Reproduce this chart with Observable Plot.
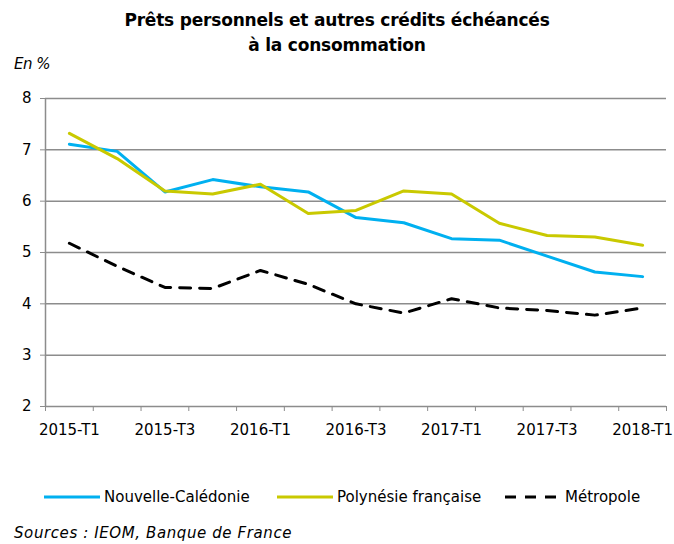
<!DOCTYPE html>
<html><head><meta charset="utf-8">
<script src="https://cdn.jsdelivr.net/npm/d3@7"></script>
<script src="https://cdn.jsdelivr.net/npm/@observablehq/plot@0.6"></script>
<style>
body{margin:0;background:#fff;font-family:"DejaVu Sans",sans-serif;}
#wrap{position:relative;width:674px;height:544px;overflow:hidden;}
#title{position:absolute;top:8px;left:0;width:674px;text-align:center;font-weight:bold;font-size:17px;line-height:25px;color:#000;letter-spacing:-0.2px;}
#unit{position:absolute;top:55px;left:14px;font-style:italic;font-size:15px;letter-spacing:-0.5px;}
#chart{position:absolute;top:80px;left:0;}
#legend{position:absolute;top:487px;left:0;width:674px;font-size:15px;}
.li{position:absolute;top:0;display:flex;align-items:center;height:20px;}
.li svg{margin-right:4px;}
#src{position:absolute;top:524px;left:14px;font-style:italic;font-size:15px;letter-spacing:0.6px;}
</style></head>
<body><div id="wrap">
<div id="title">Prêts personnels et autres crédits échéancés<br>à la consommation</div>
<div id="unit">En %</div>
<div id="chart"></div>
<div id="legend"></div>
<div id="src">Sources : IEOM, Banque de France</div>
</div>
<script>
const quarters = ["2015-T1","2015-T2","2015-T3","2015-T4","2016-T1","2016-T2","2016-T3","2016-T4","2017-T1","2017-T2","2017-T3","2017-T4","2018-T1"];
const nouvelleCaledonie = [7.11,6.97,6.18,6.42,6.28,6.18,5.68,5.58,5.27,5.24,4.93,4.62,4.53];
const polynesieFrancaise = [7.32,6.83,6.20,6.14,6.33,5.76,5.82,6.20,6.14,5.57,5.33,5.30,5.14];
const metropole = [5.18,4.73,4.32,4.30,4.65,4.38,4.00,3.82,4.10,3.92,3.87,3.78,3.92];
const yTicks = [2,3,4,5,6,7,8];
const seriesNames = ["Nouvelle-Calédonie","Polynésie française","Métropole"];
const seriesColors = ["#00B0F0","#C9C900","#000000"];

const rows = quarters.flatMap((q,i)=>[
  {i, q, s:seriesNames[0], v:nouvelleCaledonie[i]},
  {i, q, s:seriesNames[1], v:polynesieFrancaise[i]},
  {i, q, s:seriesNames[2], v:metropole[i]}
]);
const bounds = d3.range(quarters.length+1).map(k=>k-0.5);
const labelIdx = d3.range(0, quarters.length, 2);

const chart = Plot.plot({
  width:674, height:380,
  marginLeft:45, marginRight:8, marginTop:18, marginBottom:54,
  style:{fontFamily:"DejaVu Sans, sans-serif", fontSize:"14px", color:"#000"},
  x:{domain:[-0.5, quarters.length-0.5], axis:null},
  y:{domain:[2,8], axis:null},
  marks:[
    Plot.ruleY(yTicks.filter(t=>t>2), {stroke:"#8c8c8c", strokeWidth:1.5}),
    Plot.ruleY([2], {stroke:"#8c8c8c", strokeWidth:1.5}),
    Plot.ruleX([-0.5], {stroke:"#8c8c8c", strokeWidth:1.5}),
    Plot.axisY({ticks:yTicks, tickSize:5, tickPadding:9, stroke:"#8c8c8c", fill:"#000", fontSize:15, label:null, tickFormat:d=>String(d)}),
    Plot.axisX({ticks:bounds, tickSize:5, stroke:"#8c8c8c", label:null, tickFormat:()=>""}),
    Plot.axisX({ticks:labelIdx, tickSize:0, tickPadding:18, fill:"#000", fontSize:15, label:null, tickFormat:i=>quarters[i]}),
    Plot.line(rows.filter(d=>d.s===seriesNames[0]), {x:"i", y:"v", stroke:seriesColors[0], strokeWidth:3}),
    Plot.line(rows.filter(d=>d.s===seriesNames[1]), {x:"i", y:"v", stroke:seriesColors[1], strokeWidth:3}),
    Plot.line(rows.filter(d=>d.s===seriesNames[2]), {x:"i", y:"v", stroke:seriesColors[2], strokeWidth:3, strokeDasharray:"11,9"})
  ]
});
document.getElementById("chart").append(chart);

const leg = document.getElementById("legend");
const legendX = [44, 277, 505];
seriesNames.forEach((n,k)=>{
  const d = document.createElement("div");
  d.className="li"; d.style.left = legendX[k]+"px";
  const dash = k===2 ? 'stroke-dasharray="11,9"' : '';
  d.innerHTML = `<svg width="56" height="6"><line x1="0" y1="3" x2="56" y2="3" stroke="${seriesColors[k]}" stroke-width="3" ${dash}/></svg><span>${n}</span>`;
  leg.append(d);
});
</script>
</body></html>
